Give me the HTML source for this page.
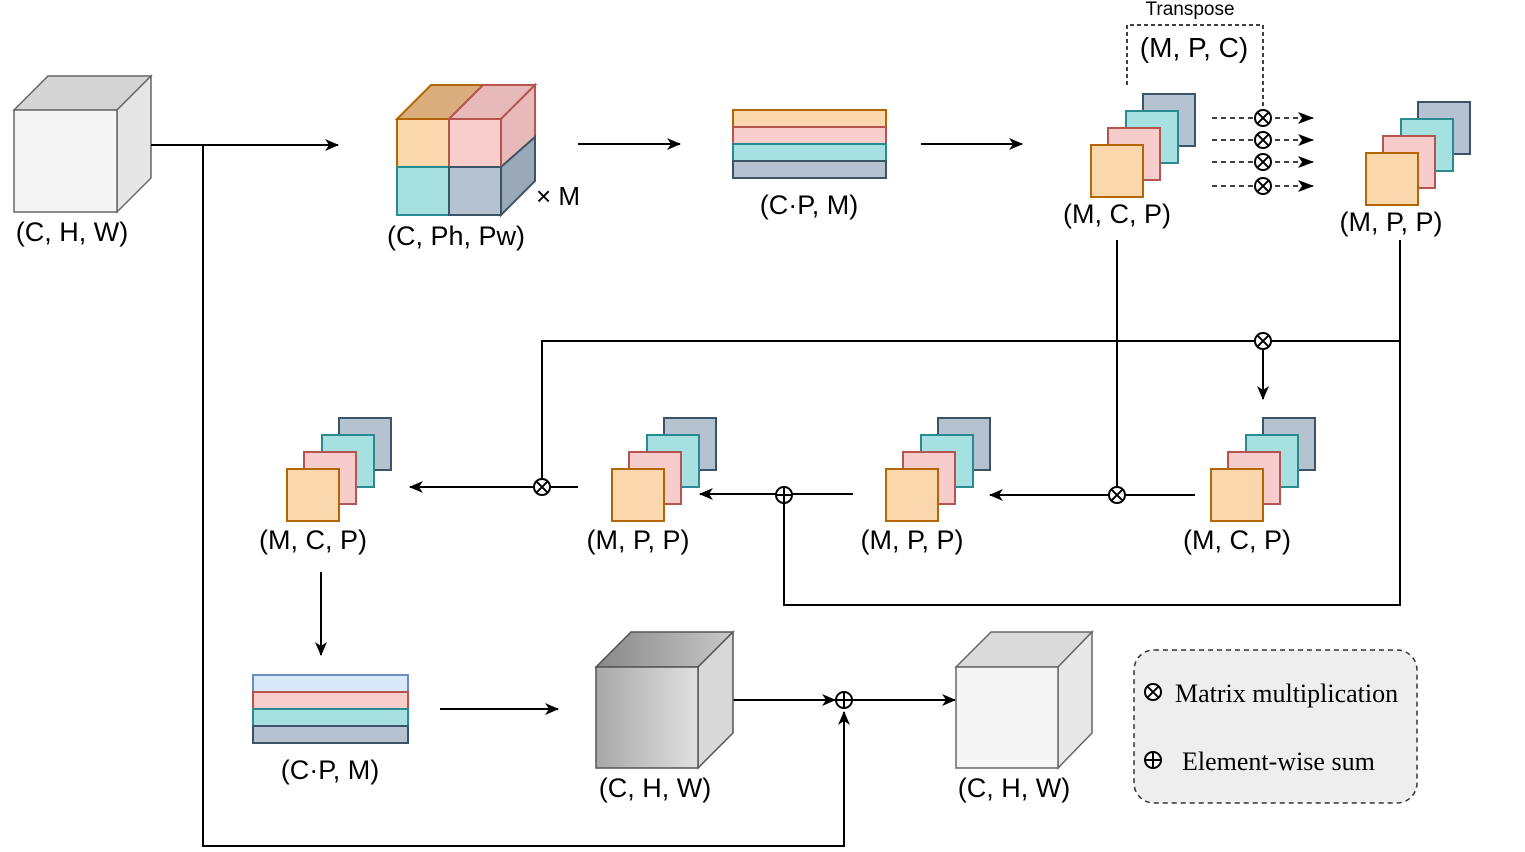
<!DOCTYPE html>
<html><head><style>body{margin:0;background:#fff}svg{display:block}</style></head><body>
<svg width="1525" height="852" viewBox="0 0 1525 852" xmlns="http://www.w3.org/2000/svg" font-family="Liberation Sans, sans-serif">
<defs>
<marker id="a" markerWidth="14" markerHeight="12" refX="13" refY="6" orient="auto" markerUnits="userSpaceOnUse"><path d="M0,0 L14,6 L0,12 L4,6 z" fill="#000"/></marker>
<marker id="b" markerWidth="16" markerHeight="12" refX="15" refY="6" orient="auto" markerUnits="userSpaceOnUse"><path d="M0,0 L16,6 L0,12 L4,6 z" fill="#000"/></marker>
<linearGradient id="g1" x1="0" x2="1"><stop offset="0" stop-color="#a8a8a8"/><stop offset="1" stop-color="#e0e0e0"/></linearGradient>
<linearGradient id="g2" x1="0" x2="1"><stop offset="0" stop-color="#888"/><stop offset="1" stop-color="#c8c8c8"/></linearGradient>
<g id="st" stroke-width="2">
<rect x="52" y="-51" width="52" height="52" fill="#b5c2cf" stroke="#3c5468"/>
<rect x="35" y="-34" width="52" height="52" fill="#a6e0e0" stroke="#2a8a90"/>
<rect x="17" y="-17" width="52" height="52" fill="#f6cccc" stroke="#b85450"/>
<rect x="0" y="0" width="52" height="52" fill="#fad7ac" stroke="#b46504"/>
</g>
<g id="ot"><circle r="8" fill="#fff" stroke="#000" stroke-width="2"/><path d="M-5.6,-5.6L5.6,5.6M-5.6,5.6L5.6,-5.6" stroke="#000" stroke-width="2"/></g>
<g id="op"><circle r="8" fill="#fff" stroke="#000" stroke-width="2"/><path d="M-8,0H8M0,-8V8" stroke="#000" stroke-width="2"/></g>
</defs>

<g stroke="#666" stroke-width="1.5">
<path d="M14,110 L48,76 L151,76 L117,110z" fill="#d4d4d4"/>
<path d="M117,110 L151,76 L151,178 L117,212z" fill="#e6e6e6"/>
<rect x="14" y="110" width="103" height="102" fill="#f5f5f5"/>
</g>
<text x="72" y="241" font-size="27" text-anchor="middle">(C, H, W)</text>

<g stroke-width="2">
<path d="M397,119 L431,85 L483,85 L449,119z" fill="#d9ad7c" stroke="#b46504"/>
<path d="M449,119 L483,85 L535,85 L501,119z" fill="#e8b9b9" stroke="#b85450"/>
<path d="M501,119 L535,85 L535,137 L501,167z" fill="#e8b9b9" stroke="#b85450"/>
<path d="M501,167 L535,137 L535,181 L501,215z" fill="#9aa9b7" stroke="#3c5468"/>
<rect x="397" y="119" width="52" height="48" fill="#fad7ac" stroke="#b46504"/>
<rect x="449" y="119" width="52" height="48" fill="#f8cecc" stroke="#b85450"/>
<rect x="397" y="167" width="52" height="48" fill="#a6e0e0" stroke="#2a8a90"/>
<rect x="449" y="167" width="52" height="48" fill="#b5c2cf" stroke="#3c5468"/>
</g>
<text x="536" y="205" font-size="26">× M</text>
<text x="456" y="245" font-size="27" text-anchor="middle">(C, Ph, Pw)</text>

<g stroke-width="2">
<rect x="733" y="110" width="153" height="17" fill="#fad7ac" stroke="#b46504"/>
<rect x="733" y="127" width="153" height="17" fill="#f8cecc" stroke="#b85450"/>
<rect x="733" y="144" width="153" height="17" fill="#a6e0e0" stroke="#2a8a90"/>
<rect x="733" y="161" width="153" height="17" fill="#b5c2cf" stroke="#3c5468"/>
</g>
<text x="809" y="214" font-size="27" text-anchor="middle">(C·P, M)</text>

<use href="#st" x="1091" y="145"/>
<text x="1117" y="223" font-size="27" text-anchor="middle">(M, C, P)</text>
<use href="#st" x="1366" y="153"/>
<text x="1391" y="231" font-size="27" text-anchor="middle">(M, P, P)</text>

<text x="1190" y="15" font-size="19" text-anchor="middle">Transpose</text>
<path d="M1127,85 V25 H1263 V110" fill="none" stroke="#000" stroke-width="1.5" stroke-dasharray="4,3"/>
<text x="1194" y="57" font-size="28" text-anchor="middle">(M, P, C)</text>
<g stroke="#000" stroke-width="1.5" stroke-dasharray="5,4" fill="none">
<path d="M1212,118 H1313" marker-end="url(#b)"/>
<path d="M1212,140 H1313" marker-end="url(#b)"/>
<path d="M1212,162 H1313" marker-end="url(#b)"/>
<path d="M1212,186 H1313" marker-end="url(#b)"/>
</g>
<use href="#ot" x="1263" y="118"/><use href="#ot" x="1263" y="140"/><use href="#ot" x="1263" y="162"/><use href="#ot" x="1263" y="186"/>

<g stroke="#000" stroke-width="2" fill="none">
<path d="M151,145 H338" marker-end="url(#a)"/>
<path d="M203,145 V846 H844 V712" marker-end="url(#a)"/>
<path d="M578,144 H680" marker-end="url(#a)"/>
<path d="M921,144 H1022" marker-end="url(#a)"/>
<path d="M1117,240 V495"/>
<path d="M1400,240 V605 H784 V495"/>
<path d="M1400,341 H542 V487"/>
<path d="M1263,341 V399" marker-end="url(#a)"/>
<path d="M1195,495 H990" marker-end="url(#a)"/>
<path d="M853,494 H700" marker-end="url(#a)"/>
<path d="M578,487 H410" marker-end="url(#a)"/>
<path d="M321,572 V655" marker-end="url(#a)"/>
<path d="M440,709 H558" marker-end="url(#a)"/>
<path d="M733,700 H835" marker-end="url(#a)"/>
<path d="M852,700 H955" marker-end="url(#a)"/>
</g>
<use href="#ot" x="1263" y="341"/>
<use href="#ot" x="1117" y="495"/>
<use href="#op" x="784" y="495"/>
<use href="#ot" x="542" y="487"/>
<use href="#op" x="844" y="700"/>

<use href="#st" x="287" y="469"/><text x="313" y="549" font-size="27" text-anchor="middle">(M, C, P)</text>
<use href="#st" x="612" y="469"/><text x="638" y="549" font-size="27" text-anchor="middle">(M, P, P)</text>
<use href="#st" x="886" y="469"/><text x="912" y="549" font-size="27" text-anchor="middle">(M, P, P)</text>
<use href="#st" x="1211" y="469"/><text x="1237" y="549" font-size="27" text-anchor="middle">(M, C, P)</text>

<g stroke-width="2">
<rect x="253" y="675" width="155" height="17" fill="#dae8fc" stroke="#6c8ebf"/>
<rect x="253" y="692" width="155" height="17" fill="#f8cecc" stroke="#b85450"/>
<rect x="253" y="709" width="155" height="17" fill="#a6e0e0" stroke="#2a8a90"/>
<rect x="253" y="726" width="155" height="17" fill="#b5c2cf" stroke="#3c5468"/>
</g>
<text x="330" y="779" font-size="27" text-anchor="middle">(C·P, M)</text>

<g stroke="#555" stroke-width="1.5">
<path d="M596,667 L631,632 L733,632 L698,667z" fill="url(#g2)"/>
<path d="M698,667 L733,632 L733,733 L698,768z" fill="#d8d8d8"/>
<rect x="596" y="667" width="102" height="101" fill="url(#g1)"/>
</g>
<text x="655" y="797" font-size="27" text-anchor="middle">(C, H, W)</text>
<g stroke="#666" stroke-width="1.5">
<path d="M956,667 L991,632 L1092,632 L1058,667z" fill="#dadada"/>
<path d="M1058,667 L1092,632 L1092,733 L1058,768z" fill="#e8e8e8"/>
<rect x="956" y="667" width="102" height="101" fill="#f5f5f5"/>
</g>
<text x="1014" y="797" font-size="27" text-anchor="middle">(C, H, W)</text>

<rect x="1134" y="650" width="283" height="153" rx="20" fill="#eeeeee" stroke="#333" stroke-width="1.5" stroke-dasharray="5,4"/>
<use href="#ot" x="1153" y="692"/>
<use href="#op" x="1153" y="760"/>
<text x="1175" y="702" font-size="26" font-family="Liberation Serif, serif">Matrix multiplication</text>
<text x="1182" y="770" font-size="26" font-family="Liberation Serif, serif">Element-wise sum</text>
</svg>
</body></html>
